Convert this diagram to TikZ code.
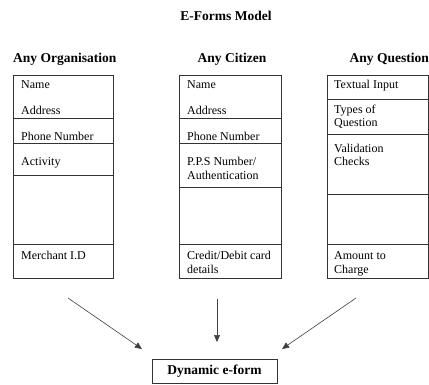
\documentclass[tikz,border=0pt]{standalone}
\usepackage{fontspec}
\setmainfont{Liberation Serif}
\usetikzlibrary{arrows.meta}
\newcommand{\twolines}[2]{\begin{tabular}[t]{@{}l@{}}#1\\#2\end{tabular}}
\begin{document}
\begin{tikzpicture}[x=1pt,y=-1pt,
  box/.style={draw=black!80, line width=0.8pt, inner sep=0pt, anchor=north west},
  divider/.style={draw=black!80, line width=0.8pt},
  lbl/.style={anchor=base west, inner sep=0pt, font=\fontsize{12}{13.5}\selectfont},
  head/.style={inner sep=0pt, font=\bfseries\fontsize{13.5}{15}\selectfont},
  arr/.style={-{Triangle[length=7pt,width=6pt]}, draw=black!75, line width=0.6pt}]
\useasboundingbox (0,0) rectangle (429,385);

% title and headers
\node[head, anchor=base] (title) at (226,21) {E-Forms Model};
\node[head, anchor=base west] (horg) at (13,63) {Any Organisation};
\node[head, anchor=base] (hcit) at (232,63) {Any Citizen};
\node[head, anchor=base east] (hque) at (429,63) {Any Question};

% boxes
\node[box, minimum width=100pt, minimum height=203pt] (org) at (13,75) {};
\node[box, minimum width=102pt, minimum height=203pt] (cit) at (179,75) {};
\node[box, minimum width=101pt, minimum height=203pt] (que) at (327,75) {};

% dividers: organisation
\foreach \yy in {118,143,175,244} \draw[divider] (org.west |- 0,\yy) -- (org.east |- 0,\yy);
% dividers: citizen
\foreach \yy in {118,143,187,244} \draw[divider] (cit.west |- 0,\yy) -- (cit.east |- 0,\yy);
% dividers: question
\foreach \yy in {99,134,194,244} \draw[divider] (que.west |- 0,\yy) -- (que.east |- 0,\yy);

% organisation texts
\node[lbl] (o1) at (21,89) {Name};
\node[lbl] (o2) at (21,115) {Address};
\node[lbl] (o3) at (21,140.5) {Phone Number};
\node[lbl] (o4) at (21,165.5) {Activity};
\node[lbl] (o5) at (21,259.5) {Merchant I.D};

% citizen texts
\node[lbl] (c1) at (187,89) {Name};
\node[lbl] (c2) at (187,115) {Address};
\node[lbl] (c3) at (187,140.5) {Phone Number};
\node[lbl] (c4) at (187,166) {\twolines{P.P.S Number/}{Authentication}};
\node[lbl] (c5) at (187,259.5) {\twolines{Credit/Debit card}{details}};

% question texts
\node[lbl] (q1) at (334,89) {Textual Input};
\node[lbl] (q2) at (334,113.5) {\twolines{Types of}{Question}};
\node[lbl] (q3) at (334,152.5) {\twolines{Validation}{Checks}};
\node[lbl] (q4) at (334,260) {\twolines{Amount to}{Charge}};

% result
\node[draw=black!80, line width=0.8pt, minimum width=125pt, minimum height=24pt, inner sep=0pt,
      font=\bfseries\fontsize{13.5}{15}\selectfont] (dyn) at (214.5,371) {Dynamic e-form};

% arrows
\coordinate (a1s) at (68,298);
\coordinate (a1e) at (142,349);
\coordinate (a2s) at (217,299);
\coordinate (a2e) at (217,342);
\coordinate (a3s) at (356,298);
\coordinate (a3e) at (282,349);
\draw[arr] (a1s) -- (a1e);
\draw[arr] (a2s) -- (a2e);
\draw[arr] (a3s) -- (a3e);
\end{tikzpicture}
\end{document}
